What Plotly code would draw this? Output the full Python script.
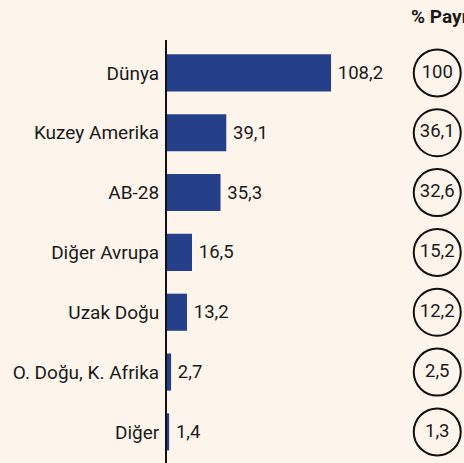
import plotly.graph_objects as go

categories = ["Dünya", "Kuzey Amerika", "AB-28", "Diğer Avrupa", "Uzak Doğu", "O. Doğu, K. Afrika", "Diğer"]
values = [108.2, 39.1, 35.3, 16.5, 13.2, 2.7, 1.4]
shares = [100, 36.1, 32.6, 15.2, 12.2, 2.5, 1.3]
header = "% Payı"

def tr(v):
    s = f"{v:g}"
    return s.replace(".", ",")

FONT = "Roboto, sans-serif"
BG = "#FDF5EC"
BAR = "#253F8B"
INK = "#1a1a1a"

fig = go.Figure()
fig.add_trace(go.Bar(
    y=categories, x=values, orientation="h",
    marker=dict(color=BAR, line=dict(width=0)),
    width=0.62,
    text=["\u2009" + tr(v) for v in values], textposition="outside",
    textfont=dict(family=FONT, size=18.5, color=INK),
    cliponaxis=False, hoverinfo="skip",
))
fig.add_trace(go.Scatter(
    y=categories, x=[0.47] * len(categories), xaxis="x2", yaxis="y",
    mode="markers+text",
    marker=dict(symbol="circle", size=47, color="rgba(0,0,0,0)",
                line=dict(color="#111111", width=2)),
    text=[tr(s) for s in shares], textposition="middle center",
    textfont=dict(family=FONT, size=18.5, color=INK),
    cliponaxis=False, hoverinfo="skip",
))

fig.update_layout(
    width=464, height=463,
    margin=dict(l=167, r=0, t=40, b=0),
    paper_bgcolor=BG, plot_bgcolor=BG,
    showlegend=False,
    xaxis=dict(domain=[0, 1], range=[0, 195.9], visible=False),
    xaxis2=dict(domain=[0.83, 1], range=[0, 1], visible=False, anchor="y"),
    yaxis=dict(
        range=[6.52, -0.55], showline=True, linecolor="#111111", linewidth=2,
        showgrid=False, zeroline=False, ticks="outside", ticklen=2, tickcolor=BG,
        tickfont=dict(family=FONT, size=19, color=INK),
    ),
    annotations=[dict(
        text="<b>" + header + "</b>", xref="paper", yref="paper",
        x=(409 - 167) / 297, y=1, xanchor="left", yanchor="middle", yshift=24,
        showarrow=False, font=dict(family=FONT, size=19, color=INK),
    )],
)

fig.write_html("out.html", config={"displayModeBar": False},
               post_script="document.body.style.margin='0';document.body.style.overflow='hidden';")
